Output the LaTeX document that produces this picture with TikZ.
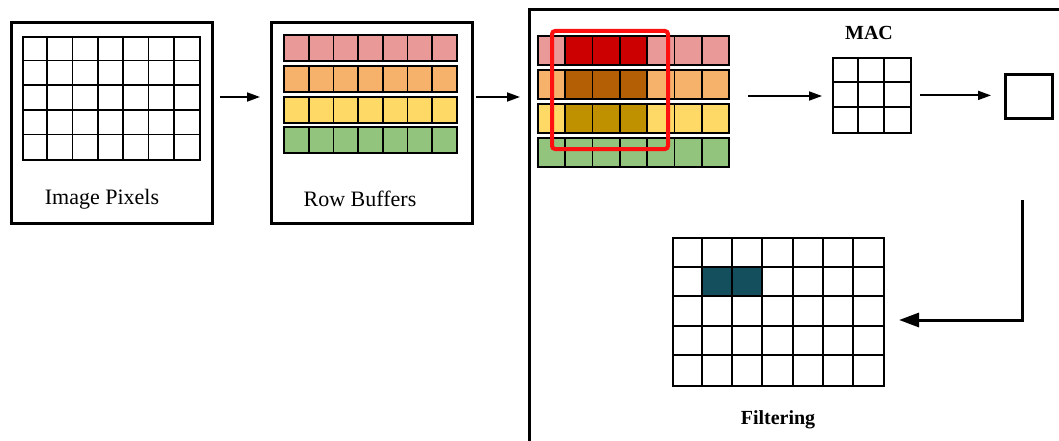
\documentclass[tikz,border=0pt]{standalone}
\usepackage{fontspec}
\setmainfont{Liberation Serif}
\usetikzlibrary{arrows.meta}
\definecolor{rpink}{HTML}{EA9999}
\definecolor{rorange}{HTML}{F6B26B}
\definecolor{ryellow}{HTML}{FFD966}
\definecolor{rgreen}{HTML}{93C47D}
\definecolor{dred}{HTML}{CC0000}
\definecolor{dorange}{HTML}{B45F06}
\definecolor{dyellow}{HTML}{BF9000}
\definecolor{dteal}{HTML}{134F5C}
\definecolor{winred}{HTML}{FF1010}
\begin{document}
\begin{tikzpicture}[x=1pt,y=-1pt,
  frame/.style={draw, line width=3pt, inner sep=0pt, anchor=north west},
  gbox/.style={draw, line width=1.8pt, inner sep=0pt, anchor=north west},
  gridline/.style={line width=1.8pt},
  arr/.style={line width=1.8pt, -{Triangle[length=13pt,width=9pt]}},
  bigarr/.style={line width=3pt, -{Triangle[length=20pt,width=14pt]}},
  lbl/.style={font=\fontsize{22}{24}\selectfont},
  blbl/.style={font=\bfseries\fontsize{20}{24}\selectfont}]
\useasboundingbox (0,0) rectangle (1059,441);
\begin{scope}
\clip (0,0) rectangle (1059,441);

% ---- Box 1: Image Pixels ----
\node[frame, minimum width=201pt, minimum height=201pt] (pix) at (10,21) {};
\node[gbox, minimum width=177pt, minimum height=123pt] (pixgrid) at (22,36) {};
\foreach \i in {1,...,6} \draw[gridline] ({22+\i*25.286},36) -- ({22+\i*25.286},159);
\foreach \j in {1,...,4} \draw[gridline] (22,{36+\j*24.6}) -- (199,{36+\j*24.6});
\node[lbl] (pixlbl) at (102,199) {Image Pixels};

% ---- Box 2: Row Buffers ----
\node[frame, minimum width=201pt, minimum height=201pt] (rb) at (270,21) {};
\foreach \y/\c in {35/rpink,66/rorange,97/ryellow,127/rgreen}{
  \draw[gridline, fill=\c] (284,\y) rectangle (457,{\y+26});
  \foreach \i in {1,...,6} \draw[gridline] ({284+\i*24.714},\y) -- ({284+\i*24.714},{\y+26});
}
\node[lbl] (rblbl) at (360,199) {Row Buffers};

% ---- Box 3: processing ----
\node[frame, minimum width=620pt, minimum height=520pt] (proc) at (528,8) {};
\foreach \y/\c/\d in {36/rpink/dred,70/rorange/dorange,104/ryellow/dyellow,138/rgreen/rgreen}{
  \foreach \i in {0,...,6}{
    \ifnum\i>0 \ifnum\i<4 \def\cc{\d}\else\def\cc{\c}\fi\else\def\cc{\c}\fi
    \draw[gridline, fill=\cc] ({538+\i*27.286},\y) rectangle ({538+(\i+1)*27.286},{\y+29});
  }
}
\node[draw=winred, line width=4pt, rounded corners=3pt, inner sep=0pt, anchor=north west,
      minimum width=116pt, minimum height=118pt] (win) at (550,29) {};

% MAC
\node[gbox, minimum width=78pt, minimum height=75pt] (mac) at (832,57) {};
\foreach \i in {1,2} \draw[gridline] ({832+\i*26},57) -- ({832+\i*26},132);
\foreach \j in {1,2} \draw[gridline] (832,{57+\j*25}) -- (910,{57+\j*25});
\node[blbl] (maclbl) at (869,33) {MAC};

% output pixel
\node[frame, minimum width=47pt, minimum height=44pt] (outpx) at (1004,73) {};

% Filtering grid
\node[gbox, line width=2pt, minimum width=211pt, minimum height=148pt] (fgrid) at (672,237) {};
\fill[dteal] ({672+30.143},{237+29.6}) rectangle ({672+3*30.143},{237+2*29.6});
\foreach \i in {1,...,6} \draw[line width=2pt] ({672+\i*30.143},237) -- ({672+\i*30.143},385);
\foreach \j in {1,...,4} \draw[line width=2pt] (672,{237+\j*29.6}) -- (883,{237+\j*29.6});
\node[blbl] (flbl) at (778,420) {Filtering};

% ---- arrows ----
\coordinate (a1s) at (220,97);
\coordinate (a1e) at (260,97);
\coordinate (a2s) at (476,97);
\coordinate (a2e) at (520,97);
\coordinate (a3s) at (748,96);
\coordinate (a5s) at (1022,200);
\draw[arr] (a1s) -- (a1e);
\draw[arr] (a2s) -- (a2e);
\draw[arr, shorten >=10pt] (a3s) -- (a3s -| mac.west);
\draw[arr, shorten <=8pt, shorten >=13pt] (mac.east) -- (mac.east -| outpx.west);
\draw[bigarr, shorten >=14pt] (a5s) |- ([yshift=-8pt]fgrid.east);
\end{scope}
\end{tikzpicture}
\end{document}
